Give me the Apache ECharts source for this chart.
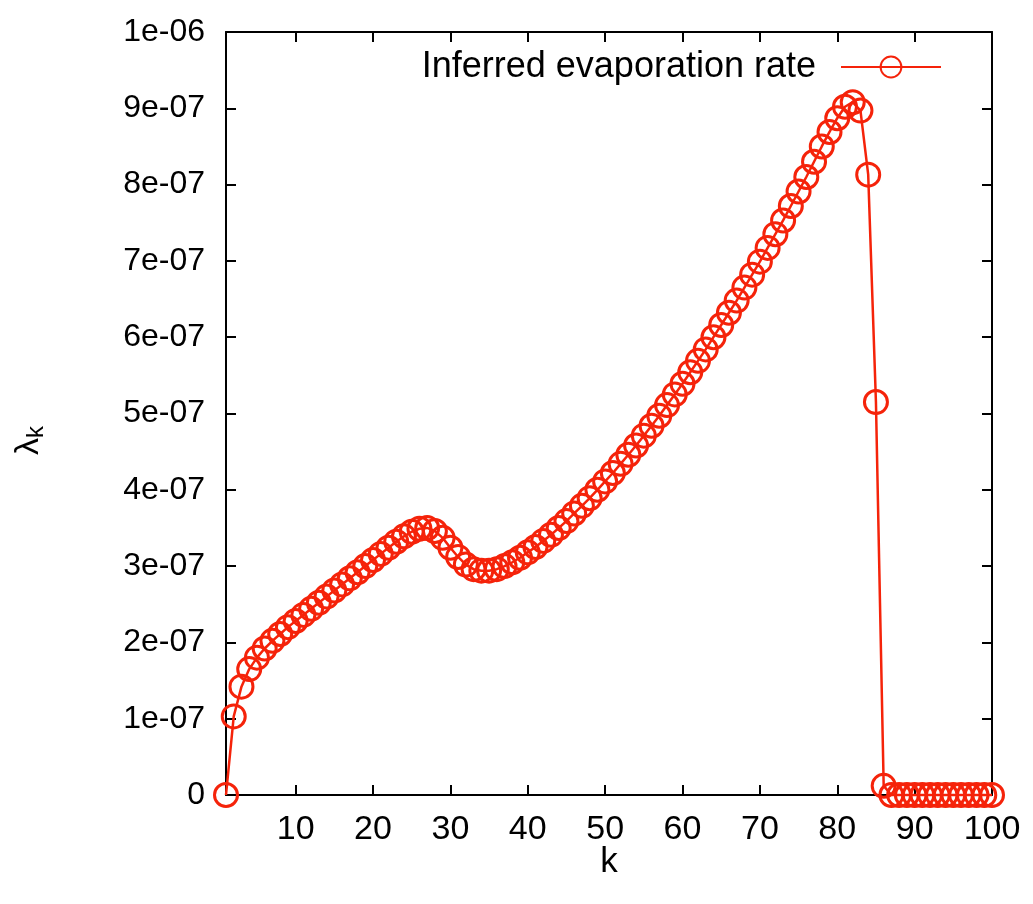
<!DOCTYPE html>
<html>
<head>
<meta charset="utf-8">
<script src="https://cdn.jsdelivr.net/npm/echarts@6/dist/echarts.min.js"></script>
<style>
html,body{margin:0;padding:0;background:#fff;}
#chart{width:1033px;height:904px;}
</style>
</head>
<body>
<div id="chart"></div>
<script>
// k values (1..100)
const kValues = [];
for (let i = 1; i <= 100; i++) kValues.push(i);
// inferred evaporation rate, in units of 1e-7
const rateE7 = [
  0, 1.03, 1.42, 1.65, 1.80, 1.92, 2.02, 2.11, 2.20, 2.28,
  2.36, 2.44, 2.52, 2.60, 2.68, 2.76, 2.84, 2.92, 3.00, 3.08,
  3.16, 3.24, 3.32, 3.39, 3.45, 3.49, 3.50, 3.46, 3.37, 3.24,
  3.12, 3.02, 2.96, 2.94, 2.94, 2.96, 3.00, 3.05, 3.11, 3.18,
  3.25, 3.33, 3.41, 3.50, 3.59, 3.69, 3.79, 3.89, 4.00, 4.11,
  4.22, 4.34, 4.46, 4.58, 4.71, 4.84, 4.97, 5.11, 5.25, 5.39,
  5.54, 5.69, 5.84, 6.00, 6.16, 6.32, 6.48, 6.65, 6.82, 6.99,
  7.17, 7.35, 7.53, 7.72, 7.91, 8.10, 8.30, 8.50, 8.69, 8.87,
  9.02, 9.08, 8.97, 8.13, 5.15, 0.12, 0, 0, 0, 0,
  0, 0, 0, 0, 0, 0, 0, 0, 0, 0
];
const xTicks = [10, 20, 30, 40, 50, 60, 70, 80, 90, 100];
const yTickLabels = ['0','1e-07','2e-07','3e-07','4e-07','5e-07','6e-07','7e-07','8e-07','9e-07','1e-06'];
const seriesName = 'Inferred evaporation rate';

const data = kValues.map((k, i) => [k, rateE7[i] * 1e-7]);
const RED = '#f5230a';
const FONT = '"Liberation Sans", Arial, sans-serif';

function yFmt(v) {
  const idx = Math.round(v / 1e-7);
  return yTickLabels[idx] !== undefined ? yTickLabels[idx] : '';
}

const chart = echarts.init(document.getElementById('chart'), null, {renderer: 'canvas'});
const axisLine = {show: true, onZero: false, lineStyle: {color: '#000', width: 2}};
const tickStyle = {inside: true, length: 10, lineStyle: {color: '#000', width: 2}};

chart.setOption({
  animation: false,
  backgroundColor: '#fff',
  grid: {left: 226, right: 41, top: 32, bottom: 109, containLabel: false},
  legend: {
    data: [seriesName],
    right: 86, top: 44,
    align: 'right',
    itemWidth: 100, itemHeight: 26, itemGap: 10,
    textStyle: {fontFamily: FONT, fontSize: 36, color: '#000', padding: [0, 20, 0, 0]}
  },
  xAxis: [{
    type: 'value', min: 1, max: 100, position: 'bottom',
    name: 'k', nameLocation: 'middle', nameGap: 50, nameMoveOverlap: false,
    nameTextStyle: {fontFamily: FONT, fontSize: 35, color: '#000'},
    axisLine: axisLine,
    axisTick: Object.assign({customValues: xTicks}, tickStyle),
    axisLabel: {customValues: xTicks, margin: 18, fontFamily: FONT, fontSize: 34, color: '#000'},
    splitLine: {show: false}
  }, {
    type: 'value', min: 1, max: 100, position: 'top',
    axisLine: axisLine,
    axisTick: Object.assign({customValues: xTicks}, tickStyle),
    axisLabel: {show: false},
    splitLine: {show: false}
  }],
  yAxis: [{
    type: 'value', min: 0, max: 1e-6, interval: 1e-7, position: 'left',
    name: '{a|λ}{b|k}', nameLocation: 'middle', nameGap: 178, nameRotate: 90, nameMoveOverlap: false,
    nameTextStyle: {
      fontFamily: FONT, color: '#000', padding: [0, 54, 0, 0],
      rich: {
        a: {fontSize: 34, fontFamily: FONT, color: '#000'},
        b: {fontSize: 24, fontFamily: FONT, color: '#000', padding: [14, 0, 0, 0]}
      }
    },
    axisLine: axisLine,
    axisTick: tickStyle,
    axisLabel: {formatter: yFmt, margin: 21, fontFamily: FONT, fontSize: 32, color: '#000'},
    splitLine: {show: false}
  }, {
    type: 'value', min: 0, max: 1e-6, interval: 1e-7, position: 'right',
    axisLine: axisLine,
    axisTick: tickStyle,
    axisLabel: {show: false},
    splitLine: {show: false}
  }],
  series: [{
    name: seriesName,
    type: 'line',
    data: data,
    xAxisIndex: 0, yAxisIndex: 0,
    clip: false,
    showAllSymbol: true,
    symbol: 'circle',
    symbolSize: 23,
    lineStyle: {color: RED, width: 2.5},
    itemStyle: {color: 'rgba(255,255,255,0)', borderColor: RED, borderWidth: 3},
    z: 1
  }]
});
</script>
</body>
</html>
